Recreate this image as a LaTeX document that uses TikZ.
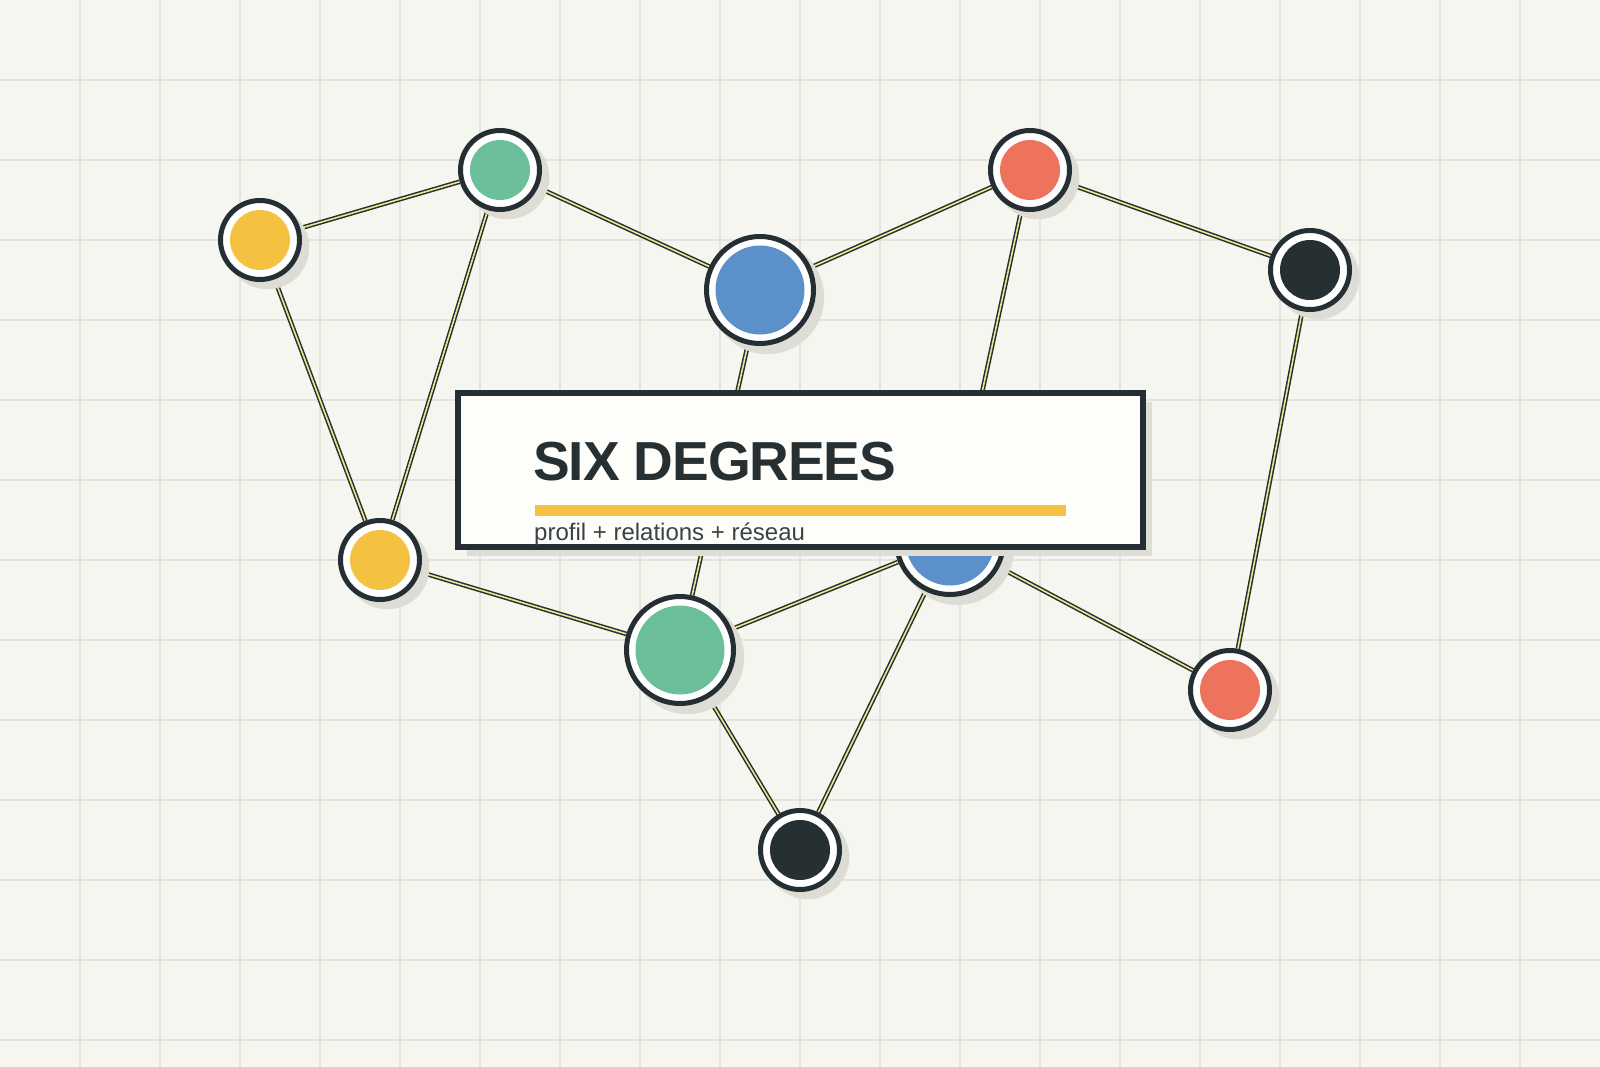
\documentclass[tikz,border=0pt]{standalone}
\usepackage{fontspec}
\setmainfont{Liberation Sans}
\newfontfamily\headfont{Liberation Sans}[LetterSpace=-2.0]
\usepackage{xcolor}
\usetikzlibrary{shadows}

\definecolor{paper}{HTML}{F6F6F1}
\definecolor{gridgray}{HTML}{E4E4DC}
\definecolor{ink}{HTML}{252F33}
\definecolor{shade}{HTML}{DDDDD5}
\definecolor{linkcore}{HTML}{F0E58A}
\definecolor{sunny}{HTML}{F4C240}
\definecolor{mint}{HTML}{6BBF9B}
\definecolor{sky}{HTML}{5B90CB}
\definecolor{coral}{HTML}{EE735C}
\definecolor{slate}{HTML}{263033}
\definecolor{cardfill}{HTML}{FDFDFA}
\definecolor{subgray}{HTML}{3B4347}

\pgfdeclarelayer{gridlayer}
\pgfdeclarelayer{linklayer}
\pgfsetlayers{gridlayer,linklayer,main}

\tikzset{
	member/.style={circle,draw=ink,line width=5pt,fill=white,inner sep=0pt,
		drop shadow={shadow xshift=7pt,shadow yshift=-7pt,shadow scale=1.06,fill=shade,opacity=1}},
	person/.style={member,minimum size=79pt,
		path picture={\fill[#1] (path picture bounding box.center) circle (30pt);}},
	hub/.style={member,minimum size=107pt,
		path picture={\fill[#1] (path picture bounding box.center) circle (44.5pt);}},
	link/.style={draw=ink,line width=1.5pt,double=linkcore,double distance=1.6pt},
	gridline/.style={draw=gridgray,line width=1.1pt}
}

\begin{document}
\begin{tikzpicture}[x=1pt,y=-1pt]
	\useasboundingbox (0,0) rectangle (1600,1067);
	\begin{pgfonlayer}{gridlayer}
		\fill[paper] (0,0) rectangle (1600,1067);
		\foreach \gx in {80,160,...,1520} \draw[gridline] (\gx,0) -- (\gx,1067);
		\foreach \gy in {80,160,...,1040} \draw[gridline] (0,\gy) -- (1600,\gy);
	\end{pgfonlayer}

	\node[person=sunny] (P1) at (260,240) {};
	\node[person=mint] (P2) at (500,170) {};
	\node[hub=sky] (P3) at (760,290) {};
	\node[person=coral] (P4) at (1030,170) {};
	\node[person=slate] (P5) at (1310,270) {};
	\node[person=sunny] (P6) at (380,560) {};
	\node[hub=mint] (P7) at (680,650) {};
	\node[hub=sky] (P8) at (950,541) {};
	\node[person=coral] (P9) at (1230,690) {};
	\node[person=slate] (P10) at (800,850) {};

	\begin{pgfonlayer}{linklayer}
		\path (P1) edge[link] (P2);
		\path (P1) edge[link] (P6);
		\path (P2) edge[link] (P6);
		\path (P2) edge[link] (P3);
		\path (P3) edge[link] (P4);
		\path (P3) edge[link] (P7);
		\path (P4) edge[link] (P5);
		\path (P4) edge[link] (P8);
		\path (P5) edge[link] (P9);
		\path (P6) edge[link] (P7);
		\path (P7) edge[link] (P8);
		\path (P7) edge[link] (P10);
		\path (P8) edge[link] (P10);
		\path (P8) edge[link] (P9);
	\end{pgfonlayer}

	% title card
	\node[rectangle,draw=ink,line width=6pt,fill=cardfill,minimum width=685pt,minimum height=154pt,inner sep=0pt,
		drop shadow={shadow xshift=9pt,shadow yshift=-9pt,fill=shade,opacity=1}] (card) at (800.5,470) {};
	\node[anchor=base west,inner sep=0pt,text=slate] (title) at (533,480) {\headfont\bfseries\fontsize{55}{60}\selectfont SIX DEGREES};
	\fill[sunny] (535,505) rectangle (1066,516);
	\node[anchor=base west,inner sep=0pt,text=subgray] (subtitle) at (534,540) {\fontsize{24}{28}\selectfont profil + relations + réseau};
\end{tikzpicture}
\end{document}
